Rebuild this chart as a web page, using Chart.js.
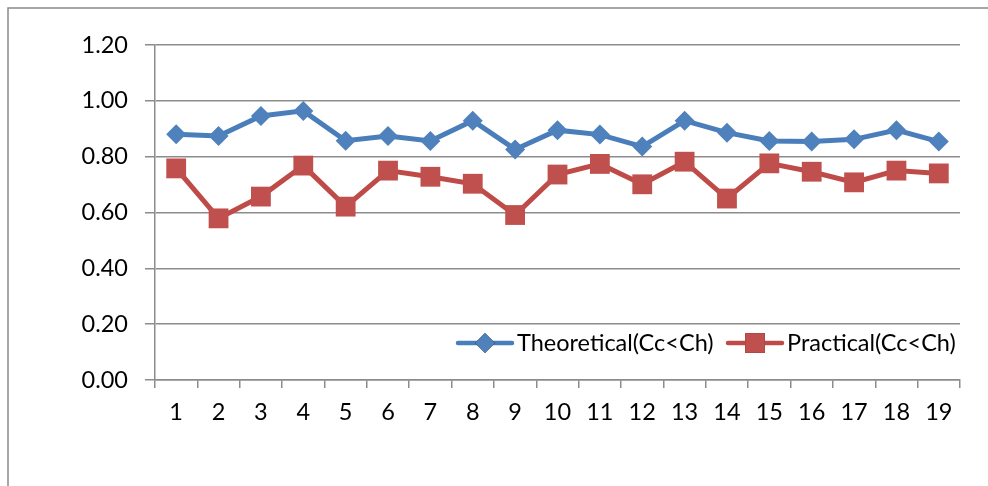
<!DOCTYPE html>
<html>
<head>
<meta charset="utf-8">
<script src="https://cdn.jsdelivr.net/npm/chart.js"></script>
<style>
  html, body { margin: 0; padding: 0; background: #fff; }
  #wrap { width: 988px; height: 486px; position: relative; }
</style>
</head>
<body>
<div id="wrap"><canvas id="c" width="988" height="486"></canvas></div>
<script>
var labels = ["1","2","3","4","5","6","7","8","9","10","11","12","13","14","15","16","17","18","19"];
var theoretical = [0.88, 0.874, 0.946, 0.964, 0.857, 0.874, 0.856, 0.929, 0.826, 0.895, 0.879, 0.836, 0.929, 0.886, 0.856, 0.854, 0.862, 0.895, 0.854];
var practical = [0.758, 0.579, 0.657, 0.768, 0.621, 0.75, 0.728, 0.703, 0.591, 0.736, 0.774, 0.701, 0.782, 0.65, 0.776, 0.746, 0.708, 0.75, 0.74];
var seriesNames = ["Theoretical(Cc<Ch)", "Practical(Cc<Ch)"];
var yTicks = [0, 0.2, 0.4, 0.6, 0.8, 1.0, 1.2];

var FONT = "Lato, 'Liberation Sans', sans-serif";
var GRID = "#8c8c8c";

var frame = {
  id: "frame",
  beforeDraw: function (chart) {
    var ctx = chart.ctx;
    ctx.save();
    ctx.strokeStyle = "#8a8a8a";
    ctx.lineWidth = 1.5;
    ctx.beginPath();
    ctx.moveTo(8, 486);
    ctx.lineTo(8, 8);
    ctx.lineTo(988, 8);
    ctx.stroke();
    ctx.restore();
  }
};

var insideLegend = {
  id: "insideLegend",
  afterDraw: function (chart) {
    var ctx = chart.ctx;
    var y = 343;
    var items = [
      { x: 458, ds: chart.data.datasets[0] },
      { x: 728, ds: chart.data.datasets[1] }
    ];
    ctx.save();
    items.forEach(function (it) {
      ctx.strokeStyle = it.ds.borderColor;
      ctx.lineWidth = 4.5;
      ctx.lineCap = "round";
      ctx.beginPath();
      ctx.moveTo(it.x, y);
      ctx.lineTo(it.x + 54, y);
      ctx.stroke();
      Chart.helpers.drawPoint(ctx, {
        pointStyle: it.ds.pointStyle,
        radius: it.ds.pointRadius,
        borderWidth: 0
      }, it.x + 27, y);
      ctx.fillStyle = it.ds.pointBackgroundColor;
      ctx.fill();
      ctx.fillStyle = "#000";
      ctx.font = "23.5px " + FONT;
      ctx.textBaseline = "middle";
      ctx.textAlign = "left";
      ctx.fillText(it.ds.label, it.x + 59, y);
    });
    ctx.restore();
  }
};

new Chart(document.getElementById("c"), {
  type: "line",
  data: {
    labels: labels,
    datasets: [
      {
        label: seriesNames[0],
        data: theoretical,
        borderColor: "#4a7ebb",
        borderWidth: 5,
        pointStyle: "rectRot",
        pointRadius: 10,
        pointHoverRadius: 10,
        pointBackgroundColor: "#4f81bd",
        pointBorderColor: "#4f81bd",
        pointBorderWidth: 0,
        tension: 0
      },
      {
        label: seriesNames[1],
        data: practical,
        borderColor: "#be4b48",
        borderWidth: 5,
        pointStyle: "rect",
        pointRadius: 14,
        pointHoverRadius: 14,
        pointBackgroundColor: "#c0504d",
        pointBorderColor: "#c0504d",
        pointBorderWidth: 0,
        tension: 0
      }
    ]
  },
  options: {
    responsive: false,
    animation: false,
    events: [],
    layout: { padding: { top: 45, right: 28, left: 0, bottom: 0 } },
    plugins: {
      legend: { display: false },
      tooltip: { enabled: false }
    },
    scales: {
      x: {
        offset: true,
        afterFit: function (s) { s.height = 106; },
        grid: {
          offset: true,
          drawOnChartArea: false,
          drawTicks: true,
          tickLength: 8,
          color: GRID,
          lineWidth: 1.5
        },
        border: { color: GRID, width: 1.5 },
        ticks: {
          color: "#000",
          font: { family: FONT, size: 23.5 },
          padding: 10,
          maxRotation: 0,
          autoSkip: false
        }
      },
      y: {
        min: 0,
        max: 1.2,
        afterFit: function (s) { s.width = 155; },
        afterBuildTicks: function (s) {
          s.ticks = yTicks.map(function (v) { return { value: v }; });
        },
        grid: {
          color: GRID,
          lineWidth: 1.5,
          drawTicks: true,
          tickLength: 10
        },
        border: { color: GRID, width: 1.5 },
        ticks: {
          color: "#000",
          font: { family: FONT, size: 23.5 },
          padding: 17,
          callback: function (v) { return Number(v).toFixed(2); }
        }
      }
    }
  },
  plugins: [frame, insideLegend]
});
</script>
</body>
</html>
